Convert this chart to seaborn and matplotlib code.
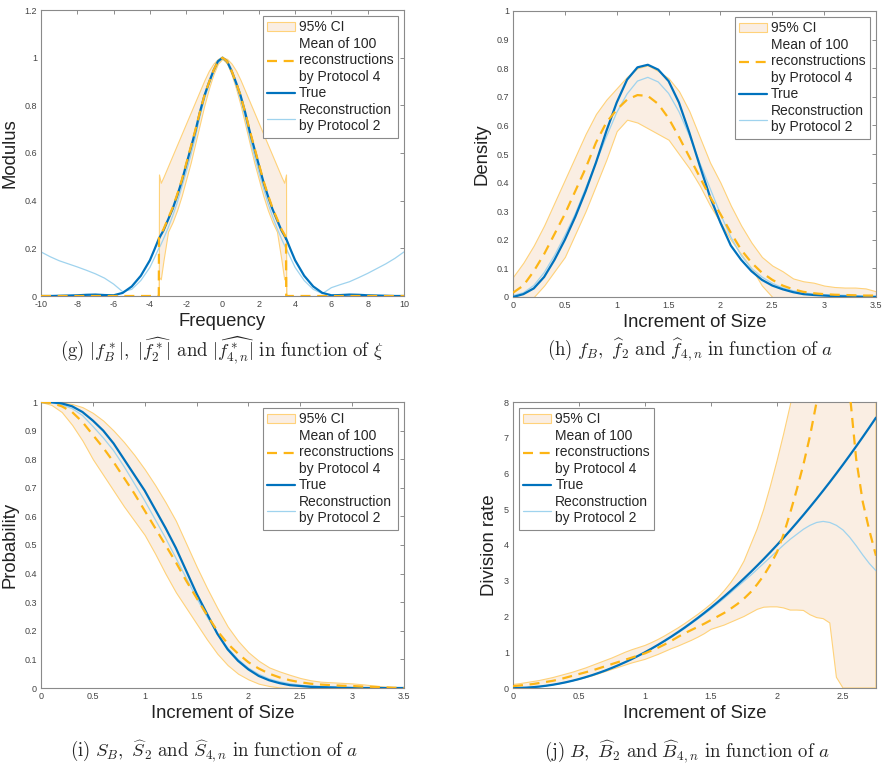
import matplotlib
matplotlib.use('Agg')
import matplotlib.pyplot as plt
import seaborn as sns
from matplotlib.patches import Patch
from matplotlib.lines import Line2D
from matplotlib.ticker import FormatStrFormatter

# ---------------- data ----------------
# (g) modulus of Fourier transforms vs frequency
xi = [-10, -9.5, -9, -8.5, -8, -7.5, -7, -6.5, -6, -5.5, -5, -4.5, -4, -3.75,
      -3.51, -3.5, -3.4, -3.25, -3, -2.75, -2.5, -2.25, -2, -1.75, -1.5, -1.25,
      -1, -0.75, -0.5, -0.25, 0, 0.25, 0.5, 0.75, 1, 1.25, 1.5, 1.75, 2, 2.25,
      2.5, 2.75, 3, 3.25, 3.4, 3.5, 3.51, 3.75, 4, 4.5, 5, 5.5, 6, 6.5, 7, 7.5,
      8, 8.5, 9, 9.5, 10]
g_true = [0.0, 0.0, 0.001, 0.002, 0.003, 0.005, 0.006, 0.004, 0.003, 0.013, 0.04,
          0.085, 0.15, 0.195, 0.24, 0.24, 0.255, 0.275, 0.32, 0.365, 0.42, 0.48,
          0.55, 0.62, 0.69, 0.77, 0.84, 0.895, 0.945, 0.985, 1.0, 0.985, 0.945,
          0.895, 0.84, 0.77, 0.69, 0.62, 0.55, 0.48, 0.42, 0.365, 0.32, 0.275,
          0.255, 0.24, 0.24, 0.195, 0.15, 0.085, 0.04, 0.013, 0.003, 0.004, 0.006,
          0.005, 0.003, 0.002, 0.001, 0.0, 0.0]
g_mean = [0.0, 0.0, 0.0, 0.0, 0.0, 0.0, 0.0, 0.0, 0.0, 0.0, 0.0, 0.0, 0.0, 0.0,
          0.0, 0.245, 0.26, 0.28, 0.325, 0.37, 0.425, 0.485, 0.555, 0.625, 0.695,
          0.77, 0.84, 0.895, 0.945, 0.985, 1.0, 0.985, 0.945, 0.895, 0.84, 0.77,
          0.695, 0.625, 0.555, 0.485, 0.425, 0.37, 0.325, 0.28, 0.26, 0.245, 0.0,
          0.0, 0.0, 0.0, 0.0, 0.0, 0.0, 0.0, 0.0, 0.0, 0.0, 0.0, 0.0, 0.0, 0.0]
g_prot2 = [0.185, 0.165, 0.148, 0.135, 0.122, 0.108, 0.093, 0.075, 0.05, 0.018,
           0.028, 0.065, 0.12, 0.16, 0.2, 0.2, 0.215, 0.24, 0.285, 0.335, 0.39,
           0.455, 0.52, 0.59, 0.665, 0.75, 0.825, 0.885, 0.94, 0.98, 0.995, 0.98,
           0.94, 0.885, 0.825, 0.75, 0.665, 0.59, 0.52, 0.455, 0.39, 0.335, 0.285,
           0.24, 0.215, 0.2, 0.2, 0.16, 0.12, 0.065, 0.028, 0.01, 0.035, 0.048,
           0.06, 0.077, 0.095, 0.115, 0.135, 0.158, 0.185]
g_upper = [0.0, 0.0, 0.0, 0.0, 0.0, 0.0, 0.0, 0.0, 0.0, 0.0, 0.0, 0.0, 0.0, 0.0,
           0.0, 0.51, 0.475, 0.5, 0.545, 0.59, 0.635, 0.68, 0.725, 0.77, 0.815,
           0.86, 0.905, 0.945, 0.975, 0.995, 1.0, 0.995, 0.975, 0.945, 0.905, 0.86,
           0.815, 0.77, 0.725, 0.68, 0.635, 0.59, 0.545, 0.5, 0.475, 0.51, 0.0,
           0.0, 0.0, 0.0, 0.0, 0.0, 0.0, 0.0, 0.0, 0.0, 0.0, 0.0, 0.0, 0.0, 0.0]
g_lower = [0.0, 0.0, 0.0, 0.0, 0.0, 0.0, 0.0, 0.0, 0.0, 0.0, 0.0, 0.0, 0.0, 0.0,
           0.0, 0.08, 0.07, 0.15, 0.27, 0.31, 0.36, 0.42, 0.49, 0.56, 0.64, 0.72,
           0.8, 0.87, 0.93, 0.975, 0.995, 0.975, 0.93, 0.87, 0.8, 0.72, 0.64, 0.56,
           0.49, 0.42, 0.36, 0.31, 0.27, 0.15, 0.07, 0.08, 0.0, 0.0, 0.0, 0.0, 0.0,
           0.0, 0.0, 0.0, 0.0, 0.0, 0.0, 0.0, 0.0, 0.0, 0.0]

# (h) density and (i) survival vs increment of size
size = [0, 0.1, 0.2, 0.3, 0.4, 0.5, 0.6, 0.7, 0.8, 0.9, 1.0, 1.1, 1.2, 1.3, 1.4,
        1.5, 1.6, 1.7, 1.8, 1.9, 2.0, 2.1, 2.2, 2.3, 2.4, 2.5, 2.6, 2.7, 2.8, 2.9,
        3.0, 3.1, 3.2, 3.3, 3.4, 3.5]
h_true = [0.0, 0.01, 0.03, 0.07, 0.13, 0.2, 0.28, 0.37, 0.47, 0.58, 0.68, 0.76,
          0.803, 0.812, 0.795, 0.755, 0.68, 0.575, 0.46, 0.35, 0.26, 0.18, 0.13,
          0.09, 0.06, 0.04, 0.027, 0.017, 0.01, 0.007, 0.005, 0.003, 0.002, 0.001,
          0.0, 0.0]
h_mean = [0.015, 0.04, 0.09, 0.15, 0.22, 0.29, 0.37, 0.45, 0.54, 0.61, 0.655,
          0.69, 0.706, 0.703, 0.675, 0.625, 0.56, 0.49, 0.42, 0.35, 0.29, 0.225,
          0.165, 0.12, 0.085, 0.06, 0.04, 0.027, 0.018, 0.013, 0.01, 0.008, 0.007,
          0.006, 0.005, 0.005]
h_prot2 = [0.005, 0.015, 0.04, 0.085, 0.145, 0.215, 0.29, 0.38, 0.47, 0.56, 0.645,
           0.71, 0.755, 0.768, 0.752, 0.712, 0.648, 0.565, 0.47, 0.38, 0.29, 0.21,
           0.145, 0.1, 0.07, 0.048, 0.032, 0.022, 0.015, 0.01, 0.008, 0.007, 0.006,
           0.005, 0.004, 0.004]
h_upper = [0.07, 0.12, 0.18, 0.25, 0.33, 0.41, 0.49, 0.57, 0.64, 0.69, 0.73, 0.77,
           0.8, 0.81, 0.79, 0.765, 0.72, 0.65, 0.56, 0.47, 0.4, 0.32, 0.25, 0.19,
           0.14, 0.11, 0.09, 0.065, 0.055, 0.05, 0.04, 0.035, 0.033, 0.033, 0.03, 0.02]
h_lower = [0.0, 0.0, 0.0, 0.04, 0.09, 0.14, 0.22, 0.3, 0.39, 0.48, 0.58, 0.62,
           0.61, 0.59, 0.57, 0.55, 0.5, 0.45, 0.39, 0.32, 0.26, 0.2, 0.15, 0.1,
           0.04, 0.0, 0.0, 0.0, 0.0, 0.0, 0.0, 0.0, 0.0, 0.0, 0.0, 0.0]

i_true = [1.0, 0.999, 0.995, 0.985, 0.965, 0.935, 0.9, 0.855, 0.8, 0.745, 0.69,
          0.625, 0.56, 0.49, 0.41, 0.33, 0.26, 0.19, 0.135, 0.095, 0.065, 0.042,
          0.027, 0.017, 0.01, 0.007, 0.004, 0.003, 0.002, 0.001, 0.0, 0.0, 0.0,
          0.0, 0.0, 0.0]
i_mean = [1.0, 0.997, 0.985, 0.965, 0.93, 0.885, 0.84, 0.79, 0.735, 0.68, 0.62,
          0.56, 0.5, 0.44, 0.375, 0.315, 0.255, 0.2, 0.155, 0.12, 0.09, 0.068,
          0.05, 0.037, 0.027, 0.02, 0.015, 0.012, 0.01, 0.008, 0.007, 0.005, 0.004,
          0.003, 0.001, 0.0]
i_prot2 = [1.0, 0.998, 0.99, 0.977, 0.953, 0.915, 0.875, 0.83, 0.775, 0.715,
           0.655, 0.59, 0.525, 0.455, 0.385, 0.315, 0.25, 0.19, 0.14, 0.1, 0.07,
           0.048, 0.032, 0.022, 0.015, 0.01, 0.007, 0.005, 0.004, 0.003, 0.002,
           0.001, 0.001, 0.0, 0.0, 0.0]
i_upper = [1.0, 1.0, 0.998, 0.993, 0.982, 0.962, 0.935, 0.9, 0.86, 0.815, 0.765,
           0.71, 0.65, 0.585, 0.505, 0.425, 0.35, 0.28, 0.215, 0.165, 0.125, 0.095,
           0.072, 0.058, 0.046, 0.035, 0.027, 0.022, 0.02, 0.018, 0.016, 0.013,
           0.009, 0.005, 0.002, 0.0]
i_lower = [1.0, 0.99, 0.965, 0.92, 0.865, 0.8, 0.745, 0.69, 0.635, 0.585, 0.535,
           0.47, 0.4, 0.335, 0.28, 0.225, 0.17, 0.12, 0.08, 0.05, 0.03, 0.015,
           0.007, 0.002, 0.0, 0.0, 0.0, 0.0, 0.0, 0.0, 0.0, 0.0, 0.0, 0.0, 0.0, 0.0]

# (j) division rate vs increment of size
size_j = [0, 0.05, 0.1, 0.15, 0.2, 0.25, 0.3, 0.35, 0.4, 0.45, 0.5, 0.55, 0.6,
          0.65, 0.7, 0.75, 0.8, 0.85, 0.9, 0.95, 1.0, 1.05, 1.1, 1.15, 1.2, 1.25,
          1.3, 1.35, 1.4, 1.45, 1.5, 1.55, 1.6, 1.65, 1.7, 1.75, 1.8, 1.85, 1.9,
          1.95, 2.0, 2.05, 2.1, 2.15, 2.2, 2.25, 2.3, 2.35, 2.4, 2.45, 2.5, 2.55,
          2.6, 2.65, 2.7, 2.75]
j_true = [0.0, 0.003, 0.01, 0.023, 0.04, 0.063, 0.09, 0.123, 0.16, 0.203, 0.25,
          0.303, 0.36, 0.423, 0.49, 0.563, 0.64, 0.723, 0.81, 0.903, 1.0, 1.103,
          1.21, 1.323, 1.44, 1.563, 1.69, 1.823, 1.96, 2.103, 2.25, 2.403, 2.56,
          2.723, 2.89, 3.063, 3.24, 3.423, 3.61, 3.803, 4.0, 4.203, 4.41, 4.623,
          4.84, 5.063, 5.29, 5.523, 5.76, 6.003, 6.25, 6.503, 6.76, 7.023, 7.29, 7.563]
j_mean = [0.05, 0.07, 0.09, 0.11, 0.14, 0.17, 0.2, 0.24, 0.29, 0.34, 0.39, 0.44,
          0.49, 0.55, 0.61, 0.67, 0.73, 0.79, 0.85, 0.91, 0.97, 1.05, 1.13, 1.22,
          1.32, 1.43, 1.53, 1.62, 1.71, 1.8, 1.9, 2.0, 2.1, 2.22, 2.35, 2.5, 2.68,
          2.9, 3.15, 3.45, 3.8, 4.3, 4.9, 5.55, 6.25, 7.05, 8.0, 9.2, 10.3, 10.8,
          10.5, 8.3, 6.4, 5.2, 4.4, 3.7]
j_prot2 = [0.0, 0.003, 0.01, 0.022, 0.04, 0.062, 0.09, 0.122, 0.16, 0.2, 0.25,
           0.3, 0.36, 0.42, 0.49, 0.56, 0.64, 0.72, 0.81, 0.9, 1.0, 1.1, 1.2, 1.31,
           1.42, 1.54, 1.66, 1.8, 1.93, 2.07, 2.21, 2.36, 2.51, 2.67, 2.83, 2.99,
           3.15, 3.32, 3.49, 3.66, 3.83, 4.0, 4.16, 4.3, 4.44, 4.55, 4.63, 4.66,
           4.63, 4.55, 4.42, 4.22, 3.98, 3.72, 3.48, 3.28]
j_upper = [0.1, 0.12, 0.15, 0.18, 0.21, 0.25, 0.29, 0.34, 0.39, 0.44, 0.5, 0.56,
           0.63, 0.7, 0.77, 0.84, 0.92, 1.0, 1.07, 1.13, 1.19, 1.27, 1.36, 1.46,
           1.57, 1.68, 1.8, 1.93, 2.06, 2.2, 2.35, 2.52, 2.72, 2.95, 3.22, 3.55,
           4.0, 4.45, 5.0, 5.65, 6.35, 7.1, 7.9, 8.8, 9.8, 11.0, 12.5, 14.0, 15.5,
           17.0, 18.5, 20.0, 21.0, 22.0, 23.0, 24.0]
j_lower = [0.0, 0.0, 0.01, 0.02, 0.04, 0.06, 0.09, 0.12, 0.16, 0.2, 0.24, 0.29,
           0.34, 0.4, 0.46, 0.52, 0.58, 0.64, 0.7, 0.75, 0.8, 0.87, 0.94, 1.02, 1.1,
           1.17, 1.25, 1.33, 1.42, 1.52, 1.64, 1.7, 1.76, 1.84, 1.92, 2.0, 2.1, 2.2,
           2.26, 2.27, 2.27, 2.24, 2.18, 2.18, 2.17, 2.05, 1.97, 1.94, 1.82, 0.3,
           0.0, 0.0, 0.0, 0.0, 0.0, 0.0]

legend_labels = ['95% CI', 'Mean of 100\nreconstructions\nby Protocol 4',
                 'True', 'Reconstruction\nby Protocol 2']
captions = [
    r'$\mathrm{(g)}\ |f^*_B|,\ |\widehat{f^*_2}|\ \mathrm{and}\ |\widehat{f^*_{4,n}}|\ \mathrm{in\ function\ of}\ \xi$',
    r'$\mathrm{(h)}\ f_B,\ \widehat{f}_2\ \mathrm{and}\ \widehat{f}_{4,n}\ \mathrm{in\ function\ of}\ a$',
    r'$\mathrm{(i)}\ S_B,\ \widehat{S}_2\ \mathrm{and}\ \widehat{S}_{4,n}\ \mathrm{in\ function\ of}\ a$',
    r'$\mathrm{(j)}\ B,\ \widehat{B}_2\ \mathrm{and}\ \widehat{B}_{4,n}\ \mathrm{in\ function\ of}\ a$',
]

# ---------------- style ----------------
sns.set_style('white')
plt.rcParams['font.family'] = ['Liberation Sans', 'DejaVu Sans']
plt.rcParams['mathtext.fontset'] = 'cm'

BLUE = '#0072BD'
LIGHT = '#9fd3ee'
GOLD = '#FDB515'
FILL = '#FAEEE3'
EDGE = '#FFD27A'

fig = plt.figure(figsize=(8.88, 7.7), dpi=100)
W, H = 888, 770


def make_ax(l, t, r, b):
    return fig.add_axes([l / W, 1 - b / H, (r - l) / W, (b - t) / H])


axes = [make_ax(41, 10, 404, 296), make_ax(513, 11, 876, 297),
        make_ax(41, 402, 404, 688), make_ax(513, 402, 876, 688)]

panels = [
    (xi, g_true, g_mean, g_prot2, g_lower, g_upper),
    (size, h_true, h_mean, h_prot2, h_lower, h_upper),
    (size, i_true, i_mean, i_prot2, i_lower, i_upper),
    (size_j, j_true, j_mean, j_prot2, j_lower, j_upper),
]
xlabels = ['Frequency', 'Increment of Size', 'Increment of Size', 'Increment of Size']
ylabels = ['Modulus', 'Density', 'Probability', 'Division rate']
xlims = [(-10, 10), (0, 3.5), (0, 3.5), (0, 2.75)]
ylims = [(0, 1.2), (0, 1), (0, 1), (0, 8)]
xticks = [list(range(-10, 11, 2)), [0, 0.5, 1, 1.5, 2, 2.5, 3, 3.5],
          [0, 0.5, 1, 1.5, 2, 2.5, 3, 3.5], [0, 0.5, 1, 1.5, 2, 2.5]]
yticks = [[0, 0.2, 0.4, 0.6, 0.8, 1, 1.2],
          [0, 0.1, 0.2, 0.3, 0.4, 0.5, 0.6, 0.7, 0.8, 0.9, 1],
          [0, 0.1, 0.2, 0.3, 0.4, 0.5, 0.6, 0.7, 0.8, 0.9, 1],
          [0, 1, 2, 3, 4, 5, 6, 7, 8]]
legend_locs = ['upper right', 'upper right', 'upper right', 'upper left']
cap_pos = [(222, 350), (690, 350), (214, 752), (687, 752)]

for k, ax in enumerate(axes):
    x, tr, mn, p2, lo, up = panels[k]
    ax.fill_between(x, lo, up, facecolor=FILL, edgecolor=EDGE, linewidth=0.8, zorder=1)
    sns.lineplot(x=x, y=p2, ax=ax, color=LIGHT, linewidth=0.9, zorder=2)
    sns.lineplot(x=x, y=tr, ax=ax, color=BLUE, linewidth=1.6, zorder=3)
    sns.lineplot(x=x, y=mn, ax=ax, color=GOLD, linewidth=1.6, zorder=4,
                 linestyle=(0, (4.5, 3)))
    ax.set_xlim(*xlims[k])
    ax.set_ylim(*ylims[k])
    ax.set_xticks(xticks[k])
    ax.set_yticks(yticks[k])
    ax.xaxis.set_major_formatter(FormatStrFormatter('%g'))
    ax.yaxis.set_major_formatter(FormatStrFormatter('%g'))
    ax.tick_params(direction='in', top=True, right=True, length=3, width=0.6,
                   colors='#7a7a7a', labelsize=6.5, labelcolor='#444444', pad=3)
    for sp in ax.spines.values():
        sp.set_color('#8a8a8a')
        sp.set_linewidth(0.8)
    ax.set_xlabel(xlabels[k], fontsize=13.3, labelpad=3, color='#222222')
    ax.set_ylabel(ylabels[k], fontsize=13.3, labelpad=4, color='#222222')

    handles = [Patch(facecolor=FILL, edgecolor=EDGE, linewidth=0.8),
               Line2D([], [], color=GOLD, linewidth=1.6, linestyle=(0, (4.5, 3))),
               Line2D([], [], color=BLUE, linewidth=1.6),
               Line2D([], [], color=LIGHT, linewidth=0.9)]
    leg = ax.legend(handles, legend_labels, loc=legend_locs[k], fontsize=10,
                    fancybox=False, framealpha=1, edgecolor='#8a8a8a',
                    handlelength=2.0, handletextpad=0.3, borderpad=0.3,
                    labelspacing=0.2, borderaxespad=0.45)
    leg.get_frame().set_linewidth(0.8)

    cx, cy = cap_pos[k]
    fig.text(cx / W, 1 - cy / H, captions[k], ha='center', va='center', fontsize=13.5)

fig.savefig('out.png', dpi=100)
